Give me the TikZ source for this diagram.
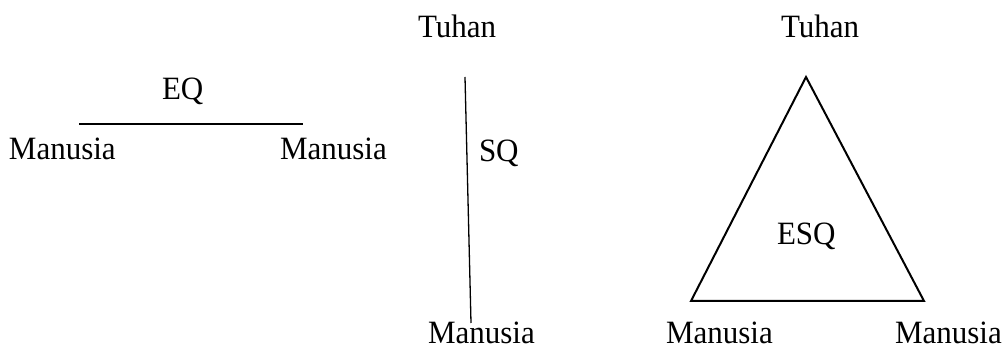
\documentclass[tikz,border=0pt]{standalone}
\usepackage{graphicx}
\usepackage{fontspec}
\setmainfont{Liberation Serif}
\newcommand{\stretchtxt}[1]{\scalebox{1}[1.05]{#1}}
\begin{document}
\begin{tikzpicture}[x=1pt,y=-1pt,
  lbl/.style={anchor=base west,inner sep=0pt,outer sep=0pt,font=\fontsize{31}{36}\selectfont},
  thin line/.style={line width=1.3pt},
  tri line/.style={line width=2pt,line join=miter}]
\useasboundingbox (0,0) rectangle (1005,347);
% EQ part
\node[lbl] (m1) at (9,160) {\stretchtxt{Manusia}};
\node[lbl] (m2) at (280,160) {\stretchtxt{Manusia}};
\node[lbl] (eq) at (162,100) {\stretchtxt{EQ}};
\coordinate (eqa) at (79,124);
\coordinate (eqb) at (303,124);
\draw[thin line] (eqa) -- (eqb);
% SQ part
\node[lbl] (t1) at (418,38) {\stretchtxt{Tuhan}};
\node[lbl] (m3) at (428,344) {\stretchtxt{Manusia}};
\node[lbl] (sq) at (479,162) {\stretchtxt{SQ}};
\coordinate (sqa) at (465,77);
\coordinate (sqb) at (471,323);
\draw[thin line] (sqa) -- (sqb);
% ESQ part
\node[lbl] (t2) at (781,38) {\stretchtxt{Tuhan}};
\node[lbl] (esq) at (777,245) {\stretchtxt{ESQ}};
\node[lbl] (m4) at (666,344) {\stretchtxt{Manusia}};
\node[lbl] (m5) at (895,344) {\stretchtxt{Manusia}};
\coordinate (ta) at (806,77);
\coordinate (tb) at (691,301);
\coordinate (tc) at (924,301);
\draw[tri line] (ta) -- (tb) -- (tc) -- cycle;
\end{tikzpicture}
\end{document}
